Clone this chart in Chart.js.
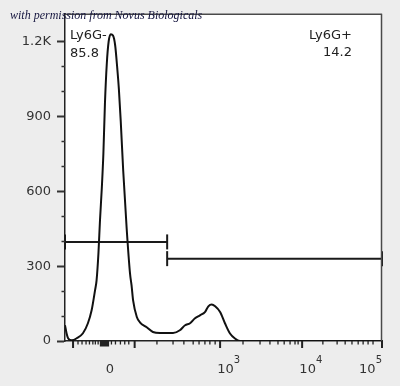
<!DOCTYPE html>
<html>
<head>
<meta charset="utf-8">
<script src="https://cdn.jsdelivr.net/npm/chart.js@4.4.1/dist/chart.umd.min.js"></script>
<style>
html,body{margin:0;padding:0;background:#ededed;}
#wrap{width:400px;height:386px;position:relative;}
</style>
</head>
<body>
<div id="wrap"><canvas id="c" width="400" height="386"></canvas></div>
<script>
// ---- Data (x in display channels 0..1024 of the biexponential axis, y = count) ----
const histChannel = [0,5,10,22,38,58,74,86,97,102,108,113,119,124,129,135,141,148,155,162,169,174,180,188,199,210,215,220,232,242,264,284,307,349,371,388,404,420,436,452,463,474,485,501,517,533,549,565,1024];
const histCount   = [63,31,11,3,11,31,71,123,203,243,351,483,615,751,951,1111,1200,1229,1224,1185,1090,1010,882,683,455,271,223,163,96,75,55,36,32,32,43,63,71,91,103,116,139,146,139,116,70,30,10,0,0];

const gateNames    = ['Ly6G-', 'Ly6G+'];
const gatePercents = ['85.8', '14.2'];
const gateStart    = [0, 330];
const gateEnd      = [330, 1024];
const gateLevel    = [397, 330];

const yTickValues  = [0, 300, 600, 900, 1200];
const yTickLabels  = ['0', '300', '600', '900', '1.2K'];
const yMinorTicks  = [100, 200, 400, 500, 700, 800, 1000, 1100];
const yMax = 1311;

const xLabelChannels = [127, 501, 766, 1024];
const xLabelBases    = ['0', '10', '10', '10'];
const xLabelExps     = ['', '3', '4', '5'];
const xMajorTicks    = [26, 225, 501, 766, 1024];
const xZeroTicks     = [115, 118, 121, 124, 128, 131, 134, 137, 140];
const xMinorTicks    = [42, 55, 68, 79, 90, 98, 107, 150, 163, 179, 193, 206,
                        297, 349, 384, 414, 433, 452, 468, 485,
                        575, 630, 662, 688, 708, 727, 743, 753,
                        833, 879, 905, 927, 947, 963, 979, 995];

const watermark = 'with permission from Novus Biologicals';

// ---- Build datasets ----
const histData = histChannel.map((x, i) => ({x: x, y: histCount[i]}));
const gateDatasets = gateNames.map((n, i) => ({
  label: n,
  data: [{x: gateStart[i], y: gateLevel[i]}, {x: gateEnd[i], y: gateLevel[i]}],
  showLine: true,
  borderColor: '#1a1a1a',
  borderWidth: 2,
  pointStyle: 'line',
  rotation: 90,
  pointRadius: 7.5,
  pointBorderWidth: 2,
  pointBorderColor: '#1a1a1a',
  clip: false,
  order: 2
}));

const decor = {
  id: 'decor',
  beforeDraw(chart) {
    const {ctx, chartArea: a} = chart;
    ctx.save();
    ctx.fillStyle = '#ededed';
    ctx.fillRect(0, 0, chart.width, chart.height);
    ctx.fillStyle = '#ffffff';
    ctx.fillRect(a.left, a.top, a.right - a.left, a.bottom - a.top);
    ctx.restore();
  },
  afterDraw(chart) {
    const {ctx, chartArea: a} = chart;
    const xs = chart.scales.x, ys = chart.scales.y;
    ctx.save();
    // frame top / right
    ctx.strokeStyle = '#4a4a4a';
    ctx.lineWidth = 1.5;
    ctx.beginPath();
    ctx.moveTo(a.left, a.top + 0.5); ctx.lineTo(a.right, a.top + 0.5);
    ctx.moveTo(a.right - 0.5, a.top); ctx.lineTo(a.right - 0.5, a.bottom);
    ctx.stroke();
    // y minor ticks
    ctx.strokeStyle = '#333';
    ctx.lineWidth = 1.5;
    ctx.beginPath();
    yMinorTicks.forEach(v => {
      const p = Math.round(ys.getPixelForValue(v)) + 0.5;
      ctx.moveTo(a.left - 3.5, p); ctx.lineTo(a.left, p);
    });
    ctx.stroke();
    // x ticks
    const drawX = (arr, len, w) => {
      ctx.lineWidth = w;
      ctx.beginPath();
      arr.forEach(v => {
        const p = xs.getPixelForValue(v);
        ctx.moveTo(p, a.bottom); ctx.lineTo(p, a.bottom + len);
      });
      ctx.stroke();
    };
    ctx.strokeStyle = '#222';
    drawX(xMinorTicks, 3.5, 1.3);
    drawX(xZeroTicks, 5.5, 1.5);
    drawX(xMajorTicks, 7, 2);
    // x labels
    ctx.fillStyle = '#333';
    ctx.textBaseline = 'alphabetic';
    ctx.textAlign = 'left';
    const baseFont = '13px "DejaVu Sans"', expFont = '10px "DejaVu Sans"';
    xLabelChannels.forEach((v, i) => {
      const p = xs.getPixelForValue(v);
      ctx.font = baseFont;
      const wb = ctx.measureText(xLabelBases[i]).width;
      ctx.font = expFont;
      const we = xLabelExps[i] ? ctx.measureText(xLabelExps[i]).width : 0;
      let left = p + 5.5 - wb / 2;
      if (left + wb + we > a.right) left = a.right - wb - we;
      const base = a.bottom + 32;
      ctx.font = baseFont;
      ctx.fillText(xLabelBases[i], left, base);
      if (xLabelExps[i]) {
        ctx.font = expFont;
        ctx.fillText(xLabelExps[i], left + wb, base - 10);
      }
    });
    // gate annotations
    ctx.font = '13px "DejaVu Sans"';
    ctx.fillStyle = '#222';
    const x0 = xs.getPixelForValue(gateStart[0]) + 5;
    ctx.textAlign = 'left';
    ctx.fillText(gateNames[0], x0, a.top + 25);
    ctx.fillText(gatePercents[0], x0, a.top + 43.5);
    const x1 = xs.getPixelForValue(gateEnd[1]) - 30;
    ctx.textAlign = 'right';
    ctx.fillText(gateNames[1], x1, a.top + 25);
    ctx.fillText(gatePercents[1], x1, a.top + 42.5);
    // watermark
    ctx.textAlign = 'left';
    ctx.font = 'italic 12px "Liberation Serif"';
    ctx.fillStyle = '#15153f';
    ctx.fillText(watermark, 10, 19);
    ctx.restore();
  }
};

new Chart(document.getElementById('c'), {
  type: 'scatter',
  data: {
    datasets: [
      {
        label: 'Ly6G',
        data: histData,
        showLine: true,
        borderColor: '#111',
        borderWidth: 2,
        pointRadius: 0,
        cubicInterpolationMode: 'monotone',
        order: 1
      },
      ...gateDatasets
    ]
  },
  options: {
    responsive: false,
    animation: false,
    devicePixelRatio: 1,
    layout: {padding: {top: 13, right: 18, left: 0, bottom: 0}},
    plugins: {legend: {display: false}, tooltip: {enabled: false}},
    scales: {
      x: {
        type: 'linear',
        min: 0, max: 1024,
        ticks: {display: false},
        grid: {drawOnChartArea: false, drawTicks: false},
        border: {display: true, color: '#222', width: 1.5},
        afterFit(s) { s.height = 45; }
      },
      y: {
        type: 'linear',
        min: 0, max: yMax,
        afterBuildTicks(s) { s.ticks = yTickValues.map(v => ({value: v})); },
        ticks: {
          autoSkip: false,
          callback: (v, i) => yTickLabels[i],
          font: {family: 'DejaVu Sans', size: 13},
          color: '#333',
          padding: 6
        },
        grid: {drawOnChartArea: false, tickLength: 8, tickWidth: 2, tickColor: '#333'},
        border: {display: true, color: '#222', width: 1.5},
        afterFit(s) { s.width = 65; }
      }
    }
  },
  plugins: [decor]
});
</script>
</body>
</html>
